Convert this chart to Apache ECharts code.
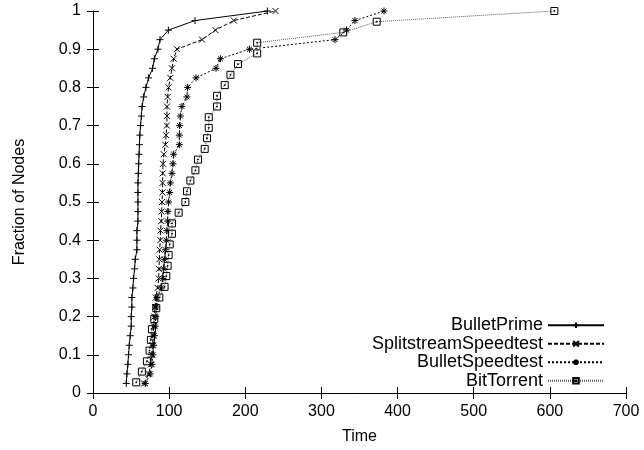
<!DOCTYPE html>
<html>
<head>
<meta charset="utf-8">
<script src="https://cdn.jsdelivr.net/npm/echarts@6/dist/echarts.min.js"></script>
<style>
  html, body { margin: 0; padding: 0; background: #fff; }
  #chart { width: 644px; height: 450px; }
</style>
</head>
<body>
<div id="chart"></div>
<script>
// fraction of nodes (40 nodes for the Bullet / Splitstream runs, 36 for BitTorrent)
var fraction40 = [0.025, 0.05, 0.075, 0.1, 0.125, 0.15, 0.175, 0.2, 0.225, 0.25,
  0.275, 0.3, 0.325, 0.35, 0.375, 0.4, 0.425, 0.45, 0.475, 0.5,
  0.525, 0.55, 0.575, 0.6, 0.625, 0.65, 0.675, 0.7, 0.725, 0.75,
  0.775, 0.8, 0.825, 0.85, 0.875, 0.9, 0.925, 0.95, 0.975, 1]
var fraction36 = [0.028, 0.056, 0.083, 0.111, 0.139, 0.167, 0.194, 0.222, 0.25, 0.278,
  0.306, 0.333, 0.361, 0.389, 0.417, 0.444, 0.472, 0.5, 0.528, 0.556,
  0.583, 0.611, 0.639, 0.667, 0.694, 0.722, 0.75, 0.778, 0.806, 0.833,
  0.861, 0.889, 0.917, 0.944, 0.972, 1]

// completion times
var bulletPrime = [43.7, 44.5, 45.8, 46.7, 47.6, 48.9, 50.2, 50.2, 51, 51,
  52.4, 53.3, 54.6, 55.5, 57.7, 57.7, 57.7, 59, 59, 59,
  59, 59, 59.5, 60, 60.5, 61, 61.5, 62.5, 63.5, 64.5,
  66.5, 69.5, 73, 78.3, 80.5, 85.3, 88, 99, 134, 229]
var splitstream = [67, 73, 76, 77, 78, 79, 79.8, 80.5, 81.5, 82.5,
  84.9, 86.2, 86.6, 87.1, 87.5, 88.4, 88.6, 89.7, 90.2, 90.6,
  91.2, 91.4, 91.6, 92, 93, 95, 96, 97, 97.1, 97.2,
  98, 99.3, 101.5, 103.7, 105.9, 110.3, 143.2, 160.8, 184.9, 239.7]
var bulletSpeed = [68.6, 75.2, 77.4, 78.7, 79.6, 80.5, 81.8, 82.5, 83.1, 84,
  89.7, 91.8, 92.8, 93.7, 95, 96.3, 97.1, 98, 98.4, 99.3,
  100.7, 101.5, 103.7, 105, 105.9, 113.4, 113.4, 113.8, 114.7, 116.8,
  123.4, 124.3, 135.3, 161.6, 167.3, 205.5, 317.8, 333, 344, 382.2]
var bitTorrent = [56.8, 64.2, 70.8, 74.3, 76, 77.4, 80.5, 83.1, 87.1, 94,
  96.3, 98, 99.3, 100.7, 103.7, 103.7, 112.5, 121.3, 123.4, 127.9,
  134.5, 137.9, 146.7, 149.7, 152, 152, 162.9, 162.9, 173, 180.5,
  190.5, 215.6, 215.6, 328.7, 372.6, 605.9]

var font = 'Liberation Sans'

function pairs(xs, ys) {
  var out = []
  for (var i = 0; i < xs.length; i++) out.push([xs[i], ys[i]])
  return out
}

function makeSeries(name, xs, ys, symbol, size, dash, color, fill) {
  return {
    name: name,
    type: 'line',
    xAxisIndex: 0,
    yAxisIndex: 0,
    data: pairs(xs, ys),
    symbol: symbol,
    symbolSize: size,
    showSymbol: true,
    lineStyle: { color: color, width: 1, type: dash },
    itemStyle: { color: fill, borderColor: '#000', borderWidth: 1 },
    emphasis: { disabled: true },
    z: 3
  }
}

var plusSym = 'path://M5,0V10M0,5H10'
var crossSym = 'path://M0,0L10,10M0,10L10,0'
var starSym = 'path://M5,0V10M0,5H10M1.5,1.5L8.5,8.5M1.5,8.5L8.5,1.5'
var boxSym = 'path://M0,0H10V10H0ZM4.4,4.4H5.6V5.6H4.4Z'

var tick = { show: true, inside: true, length: 6, lineStyle: { color: '#000' } }
var frame = { show: true, lineStyle: { color: '#000', width: 1 } }

var chart = echarts.init(document.getElementById('chart'), null, { renderer: 'canvas' })

var option = {
  animation: false,
  backgroundColor: '#fff',
  grid: { left: 93, right: 18, top: 11, bottom: 56 },
  legend: {
    orient: 'vertical',
    right: 34,
    top: 311,
    align: 'right',
    itemWidth: 56,
    itemHeight: 7,
    itemGap: 0,
    textStyle: { fontFamily: font, fontSize: 18, color: '#000', lineHeight: 18.5 },
    data: ['BulletPrime', 'SplitstreamSpeedtest', 'BulletSpeedtest', 'BitTorrent']
  },
  xAxis: [{
    type: 'value',
    min: 0, max: 700, interval: 100,
    name: 'Time',
    nameLocation: 'middle',
    nameGap: 36,
    nameTextStyle: { fontFamily: font, fontSize: 16, color: '#000' },
    axisLine: frame,
    axisTick: tick,
    axisLabel: { fontFamily: font, fontSize: 16, color: '#000', margin: 11 },
    splitLine: { show: false }
  }, {
    type: 'value',
    position: 'top',
    min: 0, max: 700, interval: 100,
    axisLine: frame,
    axisTick: tick,
    axisLabel: { show: false },
    splitLine: { show: false }
  }],
  yAxis: [{
    type: 'value',
    min: 0, max: 1, interval: 0.1,
    name: 'Fraction of Nodes',
    nameLocation: 'middle',
    nameGap: 65,
    nameTextStyle: { fontFamily: font, fontSize: 16, color: '#000' },
    axisLine: frame,
    axisTick: tick,
    axisLabel: { fontFamily: font, fontSize: 16, color: '#000', margin: 12 },
    splitLine: { show: false }
  }, {
    type: 'value',
    position: 'right',
    min: 0, max: 1, interval: 0.1,
    axisLine: frame,
    axisTick: tick,
    axisLabel: { show: false },
    splitLine: { show: false }
  }],
  series: [
    makeSeries('BulletPrime', bulletPrime, fraction40, plusSym, 7, 'solid', '#000', '#000'),
    makeSeries('SplitstreamSpeedtest', splitstream, fraction40, crossSym, 6, [4, 2], '#000', '#000'),
    makeSeries('BulletSpeedtest', bulletSpeed, fraction40, starSym, 7, [2, 2], '#000', '#000'),
    makeSeries('BitTorrent', bitTorrent, fraction36, boxSym, 7, [1, 1], '#555', 'transparent')
  ]
}

chart.setOption(option)
</script>
</body>
</html>
